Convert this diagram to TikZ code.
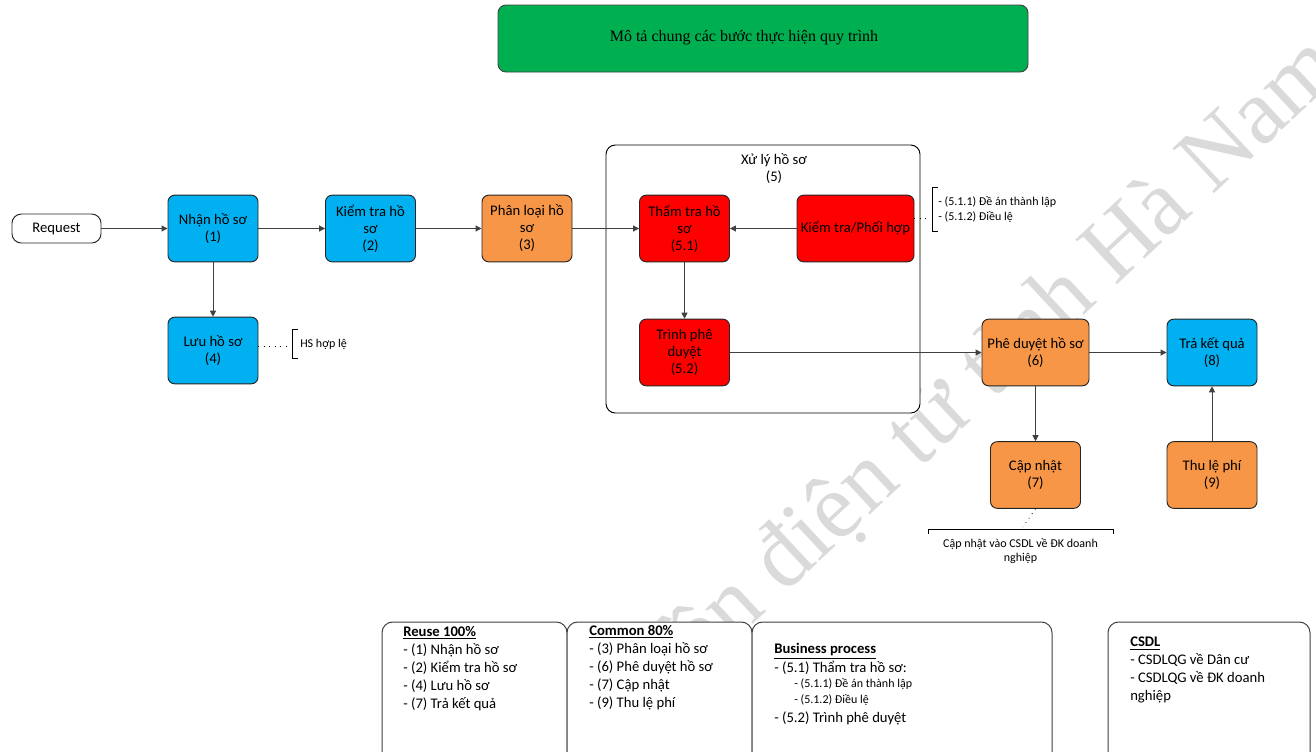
\documentclass[tikz,border=0pt]{standalone}
\usepackage{fontspec}
\setmainfont{Carlito}
\newfontfamily\titlefont{Liberation Serif}
\usetikzlibrary{arrows.meta}
\definecolor{stepblue}{HTML}{00B0F0}
\definecolor{steporange}{HTML}{F79646}
\definecolor{stepred}{HTML}{FF0000}
\definecolor{titlegreen}{HTML}{00B050}
\definecolor{edgegray}{HTML}{404040}
\definecolor{boxline}{HTML}{262626}
\definecolor{markgray}{HTML}{DADADA}

\begin{document}
\begin{tikzpicture}[x=0.75pt,y=-0.75pt,
  stepbox/.style={draw=boxline, line width=0.7pt, rounded corners=5pt,
    minimum width=67.5pt, minimum height=50pt, inner sep=1pt, align=center,
    font=\fontsize{11}{12.75}\selectfont},
  bluestep/.style={stepbox, fill=stepblue},
  orangestep/.style={stepbox, fill=steporange},
  redstep/.style={stepbox, fill=stepred},
  conn/.style={draw=edgegray, line width=0.75pt, -{Triangle[length=4.5pt,width=4.5pt]}},
  note/.style={font=\fontsize{9}{11.25}\selectfont, inner sep=0pt, align=left},
  notelink/.style={line width=0.6pt, dash pattern=on 0.6pt off 3.5pt},
  bracketline/.style={draw=black, line width=0.7pt},
  listbox/.style={draw=edgegray, fill=white, line width=0.75pt, rounded corners=8pt},
  listtext/.style={font=\fontsize{11}{13.5}\selectfont, inner sep=0pt, align=left, anchor=north west},
  smalltext/.style={font=\fontsize{9}{12}\selectfont, inner sep=0pt, anchor=west},
  itemtext/.style={font=\fontsize{11}{13.5}\selectfont, inner sep=0pt, anchor=west}]

\useasboundingbox (0,0) rectangle (1316,751);
\clip (0,0) rectangle (1316,751);
\fill[white] (0,0) rectangle (1316,751);

% watermark
\node[rotate=43, anchor=base east, inner sep=0pt, text=markgray,
      font=\titlefont\fontsize{70}{70}\selectfont] (wm) at (1345,72)
  {quyền điện tử tỉnh Hà Nam};

% heading
\node[draw=edgegray, line width=0.7pt, rounded corners=6pt, fill=titlegreen,
      minimum width=397.5pt, minimum height=50.25pt] (title) at (763,38.5) {};
\node[font=\titlefont\fontsize{12}{14}\selectfont, inner sep=0pt] (titletext) at (744,38)
  {Mô tả chung các bước thực hiện quy trình};

% group frame for step 5
\node[draw=black, line width=0.7pt, rounded corners=7pt, fill=white,
      minimum width=235.5pt, minimum height=201pt] (grp) at (763,279) {};
\node[align=center, font=\fontsize{11}{12.75}\selectfont, inner sep=0pt] (grplabel) at (774,169)
  {Xử lý hồ sơ\\(5)};

% steps
\node[draw=boxline, line width=0.7pt, rounded corners=7pt, fill=white,
      minimum width=66.75pt, minimum height=21.75pt, inner sep=0pt,
      font=\fontsize{11}{12.75}\selectfont] (req) at (56.5,228.5) {Request};
\node[bluestep] (n1) at (213,228.5) {Nhận hồ sơ\\(1)};
\node[bluestep] (n2) at (370.5,228.5) {Kiểm tra hồ\\sơ\\(2)};
\node[orangestep] (n3) at (527,228.5) {Phân loại hồ\\sơ\\(3)};
\node[bluestep] (n4) at (213,350.5) {Lưu hồ sơ\\(4)};
\node[redstep] (n51) at (684.5,228.5) {Thẩm tra hồ\\sơ\\(5.1)};
\node[redstep, minimum width=87.75pt] (nkt) at (855.5,228.5) {Kiểm tra/Phối hợp};
\node[redstep] (n52) at (684.5,352.5) {Trình phê\\duyệt\\(5.2)};
\node[orangestep, minimum width=80.25pt] (n6) at (1035.5,352.5) {Phê duyệt hồ sơ\\(6)};
\node[bluestep] (n8) at (1212,352.5) {Trả kết quả\\(8)};
\node[orangestep] (n7) at (1035.5,475) {Cập nhật\\(7)};
\node[orangestep] (n9) at (1212,475) {Thu lệ phí\\(9)};

% flow
\draw[conn] (req) -- (n1);
\draw[conn] (n1) -- (n2);
\draw[conn] (n2) -- (n3);
\draw[conn] (n3) -- (n51);
\draw[conn] (nkt) -- (n51);
\draw[conn] (n1) -- (n4);
\draw[conn] (n51) -- (n52);
\draw[conn] (n52) -- (n6);
\draw[conn] (n6) -- (n8);
\draw[conn] (n6) -- (n7);
\draw[conn] (n9) -- (n8);

% annotation: valid file
\coordinate (hsb) at (290,346);
\draw[notelink] (n4.east |- hsb) -- (hsb);
\draw[bracketline] (298,329) -- (292,329) -- (292,358) -- (298,358);
\node[note, anchor=west] (hsnote) at (300,344) {HS hợp lệ};

% annotation: documents checked
\coordinate (ktb) at (930,218);
\draw[notelink] (nkt.east |- ktb) -- (ktb);
\draw[bracketline] (938,187) -- (932,187) -- (932,231) -- (938,231);
\node[note, anchor=west] (ktnote) at (938,210)
  {- (5.1.1) Đề án thành lập\\- (5.1.2) Điều lệ};

% annotation: database update
\coordinate (cnb) at (1023,527);
\draw[notelink] (n7.south) -- (cnb);
\draw[bracketline] (928,534) -- (928,529) -- (1113,529) -- (1113,534);
\node[note, align=center, font=\fontsize{9}{10.5}\selectfont] (cnnote) at (1020.5,551)
  {Cập nhật vào CSDL về ĐK doanh\\nghiệp};

% summary boxes
\draw[listbox] (382,622) rectangle (567,775);
\draw[listbox] (567,622) rectangle (752,775);
\draw[listbox] (752,622) rectangle (1052,775);
\draw[listbox] (1108,622) rectangle (1310,775);

\node[listtext] (reuse) at (403,626)
  {\textbf{\underline{Reuse 100\%}}\\- (1) Nhận hồ sơ\\- (2) Kiểm tra hồ sơ\\- (4) Lưu hồ sơ\\- (7) Trả kết quả};
\node[listtext] (common) at (589,625)
  {\textbf{\underline{Common 80\%}}\\- (3) Phân loại hồ sơ\\- (6) Phê duyệt hồ sơ\\- (7) Cập nhật\\- (9) Thu lệ phí};
\node[itemtext] (bp0) at (774,651) {\textbf{\underline{Business process}}};
\node[itemtext] (bp1) at (774,668) {- (5.1) Thẩm tra hồ sơ:};
\node[smalltext] (bp2) at (794,684) {- (5.1.1) Đề án thành lập};
\node[smalltext] (bp3) at (794,700) {- (5.1.2) Điều lệ};
\node[itemtext] (bp4) at (774,718) {- (5.2) Trình phê duyệt};
\node[listtext] (csdl) at (1130,637)
  {\textbf{\underline{CSDL}}\\- CSDLQG về Dân cư\\- CSDLQG về ĐK doanh\\nghiệp};

\end{tikzpicture}
\end{document}
